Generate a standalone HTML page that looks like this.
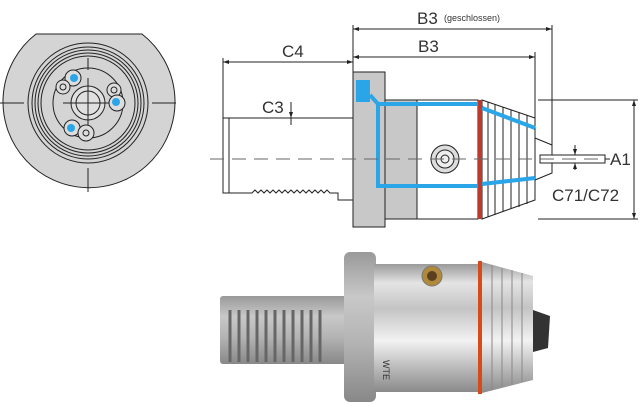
<!DOCTYPE html>
<html><head><meta charset="utf-8"><style>
html,body{margin:0;padding:0;background:#fff;width:640px;height:406px;overflow:hidden}
text{font-family:"Liberation Sans",sans-serif;fill:#333}
</style></head><body>
<svg width="640" height="406" viewBox="0 0 640 406" xmlns="http://www.w3.org/2000/svg">
<defs>
<linearGradient id="m" x1="0" y1="0" x2="0" y2="1">
<stop offset="0" stop-color="#9a9a9a"/><stop offset="0.15" stop-color="#e4e4e4"/><stop offset="0.35" stop-color="#c4c4c4"/><stop offset="0.6" stop-color="#f2f2f2"/><stop offset="0.85" stop-color="#b0b0b0"/><stop offset="1" stop-color="#8a8a8a"/>
</linearGradient>
<linearGradient id="m2" x1="0" y1="0" x2="0" y2="1">
<stop offset="0" stop-color="#999"/><stop offset="0.3" stop-color="#c8c8c8"/><stop offset="0.6" stop-color="#b4b4b4"/><stop offset="1" stop-color="#888"/>
</linearGradient>
</defs>
<g stroke="#222" stroke-width="1" fill="none">
<path d="M36 34 L142 34 A86 86 0 1 1 36 34 Z" fill="#d4d4d4"/>
<circle cx="88" cy="103" r="60"/>
<circle cx="88" cy="103" r="56"/><circle cx="88" cy="103" r="53"/><circle cx="88" cy="103" r="50"/><circle cx="88" cy="103" r="47"/>
<circle cx="88" cy="103" r="35"/>
<circle cx="88" cy="103" r="17" fill="#e0e0e0"/><circle cx="88" cy="103" r="12"/>
<line x1="88" y1="78" x2="88" y2="128"/><line x1="63" y1="103" x2="113" y2="103"/>
<line x1="0" y1="103" x2="24" y2="103"/><line x1="152" y1="103" x2="176" y2="103"/>
<line x1="88" y1="58" x2="88" y2="70"/><line x1="88" y1="168" x2="88" y2="192"/>
<circle cx="73" cy="78" r="8" fill="#ddd"/><circle cx="63" cy="87" r="7" fill="#ddd"/><circle cx="63" cy="87" r="3"/>
<circle cx="114" cy="90" r="7" fill="#ddd"/><circle cx="114" cy="90" r="3"/><circle cx="117" cy="103" r="8" fill="#ddd"/>
<circle cx="72" cy="128" r="8" fill="#ddd"/><circle cx="86" cy="133" r="8" fill="#ddd"/><circle cx="86" cy="133" r="3"/>
</g>
<circle cx="74" cy="78" r="4" fill="#2aa6e8"/><circle cx="116" cy="102" r="4" fill="#2aa6e8"/><circle cx="71" cy="128" r="4" fill="#2aa6e8"/>
<g stroke="#222" stroke-width="1" fill="none">
<line x1="223" y1="62" x2="353" y2="62"/><line x1="223" y1="58" x2="223" y2="118"/>
<line x1="353" y1="25" x2="353" y2="72"/>
<line x1="353" y1="29" x2="552" y2="29"/><line x1="552" y1="25" x2="552" y2="150"/>
<line x1="353" y1="57" x2="535" y2="57"/><line x1="535" y1="52" x2="535" y2="118"/>
<line x1="538" y1="100" x2="638" y2="100"/><line x1="538" y1="219" x2="638" y2="219"/>
<line x1="634" y1="100" x2="634" y2="219"/>
<line x1="291" y1="102" x2="291" y2="125"/>
<line x1="575" y1="145" x2="575" y2="170"/>
<path d="M223 118 L353 118 M223 118 L223 193 L229 193 L229 118 M229 193 L252 193 L255 190 L258 193 L261 190 L264 193 L267 190 L270 193 L273 190 L276 193 L279 190 L282 193 L285 190 L288 193 L291 190 L294 193 L297 190 L300 193 L303 190 L306 193 L309 190 L312 193 L315 190 L318 193 L321 190 L324 193 L327 190 L330 193 L338 193 L338 200 L353 200"/>
<rect x="353" y="72" width="32" height="155" fill="#c8c8c8"/>
<rect x="385" y="100" width="32" height="119" fill="#c8c8c8"/>
<rect x="417" y="100" width="61" height="119" fill="#fff"/>
<path d="M482 100 L535 118 L535 200 L482 219 Z" fill="#fff"/>
<line x1="488" y1="102" x2="488" y2="217"/><line x1="495" y1="104" x2="495" y2="215"/><line x1="503" y1="107" x2="503" y2="212"/><line x1="511" y1="110" x2="511" y2="209"/><line x1="519" y1="112" x2="519" y2="207"/><line x1="527" y1="115" x2="527" y2="204"/>
<path d="M535 138 L552 145 L552 173 L535 180"/>
<rect x="540" y="155" width="65" height="8" fill="#fff"/>
<circle cx="445" cy="159" r="14" fill="#ddd"/><circle cx="445" cy="159" r="9" fill="#eee"/><circle cx="445" cy="159" r="4"/>
</g>
<rect x="478" y="100" width="4" height="119" fill="#c0392b"/>
<g fill="none" stroke="#2aa6e8" stroke-width="4">
<rect x="356" y="80" width="14" height="22" fill="#2aa6e8" stroke="none"/>
<path d="M370 95 L378 104 L478 104 M378 104 L378 186 L478 186"/>
<path d="M482 108 L535 128 M482 184 L535 178"/>
</g>
<line x1="210" y1="159" x2="600" y2="159" stroke="#666" stroke-dasharray="14,8"/>
<g fill="#222">
<path d="M223 62 l6 -2 v4 z M353 62 l-6 -2 v4 z M353 29 l6 -2 v4 z M552 29 l-6 -2 v4 z M353 57 l6 -2 v4 z M535 57 l-6 -2 v4 z M634 100 l-2 6 h4 z M634 219 l-2 -6 h4 z M291 118 l-2 -6 h4 z M575 155 l-2 -6 h4 z M575 163 l-2 6 h4 z"/>
</g>
<text x="417" y="24" font-size="17">B3</text><text x="444" y="21" font-size="9">(geschlossen)</text>
<text x="418" y="52" font-size="17">B3</text>
<text x="282" y="57" font-size="17">C4</text>
<text x="262" y="113" font-size="17">C3</text>
<text x="610" y="165" font-size="17">A1</text>
<line x1="605" y1="159" x2="610" y2="159" stroke="#222"/>
<text x="552" y="201" font-size="17">C71/C72</text>
<rect x="220" y="296" width="128" height="68" rx="3" fill="url(#m2)"/>
<g stroke="#666" stroke-width="3">
<line x1="230" y1="310" x2="230" y2="362"/><line x1="239" y1="310" x2="239" y2="362"/><line x1="248" y1="310" x2="248" y2="362"/><line x1="257" y1="310" x2="257" y2="362"/><line x1="266" y1="310" x2="266" y2="362"/><line x1="275" y1="310" x2="275" y2="362"/><line x1="284" y1="310" x2="284" y2="362"/><line x1="293" y1="310" x2="293" y2="362"/><line x1="302" y1="310" x2="302" y2="362"/><line x1="311" y1="310" x2="311" y2="362"/><line x1="320" y1="310" x2="320" y2="362"/>
</g>
<rect x="344" y="252" width="32" height="150" rx="6" fill="url(#m2)"/>
<rect x="374" y="264" width="106" height="128" fill="url(#m)"/>
<path d="M482 262 L533 276 L533 380 L482 393 Z" fill="url(#m)"/>
<g stroke="#888"><line x1="492" y1="265" x2="492" y2="390"/><line x1="502" y1="268" x2="502" y2="387"/><line x1="512" y1="270" x2="512" y2="385"/><line x1="522" y1="273" x2="522" y2="382"/></g>
<path d="M533 310 L550 316 L548 348 L533 352 Z" fill="#333"/>
<rect x="478" y="261" width="4" height="133" fill="#d9491e"/>
<circle cx="432" cy="276" r="10" fill="#b08a3a" stroke="#777"/><circle cx="432" cy="276" r="5" fill="#5a4020"/>
<text x="383" y="360" font-size="9" fill="#333" transform="rotate(90 383 360)">WTE</text>
</svg>
</body></html>
